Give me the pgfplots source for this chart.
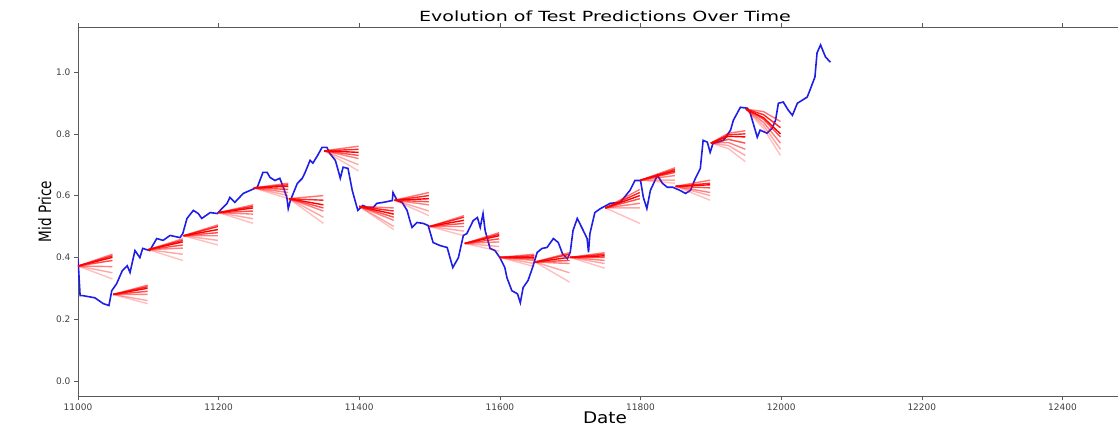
\documentclass[border=0pt]{standalone}
\usepackage{fontspec}
\setmainfont{DejaVu Sans}
\newfontfamily\titlefont[FakeStretch=1.36]{DejaVu Sans}
\newfontfamily\xlabfont[FakeStretch=1.15]{DejaVu Sans}
\newfontfamily\ylabfont[FakeStretch=0.8]{DejaVu Sans}
\usepackage{pgfplots}
\pgfplotsset{compat=1.18}
\definecolor{lineblue}{RGB}{30,30,230}
\definecolor{spine}{RGB}{90,90,90}
\begin{document}
\begin{tikzpicture}
\begin{axis}[
  scale only axis, width=1040pt, height=369pt,
  xmin=11000, xmax=12479, ymin=-0.049, ymax=1.146,
  axis x line*=box, axis y line*=left,
  axis line style={spine, line width=0.9pt},
  xtick={11000,11200,11400,11600,11800,12000,12200,12400},
  ytick={0,0.2,0.4,0.6,0.8,1.0},
  scaled x ticks=false,
  tick style={spine, line width=0.6pt}, tick align=outside,
  major tick length=4pt,
  /pgf/number format/assume math mode=true,
  xticklabel style={/pgf/number format/fixed, /pgf/number format/set thousands separator={}, font=\fontsize{9}{10}\selectfont, color=black!75},
  yticklabel style={/pgf/number format/fixed, /pgf/number format/fixed zerofill, /pgf/number format/precision=1, font=\fontsize{9}{10}\selectfont, color=black!75},
  title={\titlefont\fontsize{14}{16}\selectfont Evolution of Test Predictions Over Time},
  title style={yshift=-4pt, xshift=7pt},
  xlabel={\xlabfont\fontsize{16}{18}\selectfont Date},
  xlabel style={xshift=7pt, yshift=5pt},
  ylabel={\ylabfont\fontsize{17}{19}\selectfont Mid Price},
  ylabel style={yshift=-2pt},
  clip=true,
]
\addplot[lineblue, line width=1.6pt] coordinates {
(11000,0.396) (11003,0.276) (11007,0.276) (11024,0.269) (11036,0.250) (11044,0.244)
(11048,0.292) (11055,0.315) (11063,0.357) (11070,0.373) (11074,0.351) (11081,0.422)
(11088,0.399) (11092,0.429) (11102,0.422) (11112,0.461) (11121,0.455) (11131,0.471)
(11145,0.464) (11149,0.477) (11155,0.526) (11164,0.552) (11171,0.542) (11176,0.526)
(11188,0.545) (11198,0.542) (11212,0.575) (11216,0.594) (11223,0.578) (11235,0.607)
(11245,0.617) (11255,0.627) (11263,0.675) (11269,0.675) (11273,0.659) (11280,0.649)
(11287,0.656) (11292,0.627) (11297,0.594) (11299,0.558) (11302,0.584) (11312,0.640)
(11319,0.656) (11323,0.675) (11330,0.714) (11334,0.705) (11341,0.731) (11347,0.756)
(11354,0.756) (11358,0.737) (11366,0.714) (11370,0.682) (11373,0.656) (11377,0.692)
(11384,0.688) (11390,0.617) (11394,0.584) (11398,0.552) (11405,0.568) (11411,0.562)
(11420,0.562) (11425,0.575) (11434,0.578) (11447,0.584) (11448,0.610) (11454,0.584)
(11461,0.578) (11468,0.552) (11472,0.519) (11475,0.497) (11482,0.513) (11491,0.510)
(11498,0.503) (11505,0.448) (11515,0.438) (11525,0.432) (11533,0.367) (11541,0.399)
(11548,0.471) (11553,0.477) (11562,0.519) (11568,0.529) (11572,0.497) (11576,0.542)
(11579,0.487) (11586,0.429) (11593,0.422) (11600,0.399) (11607,0.367) (11610,0.334)
(11617,0.292) (11625,0.282) (11629,0.253) (11633,0.302) (11640,0.325) (11646,0.364)
(11653,0.416) (11660,0.429) (11667,0.432) (11676,0.461) (11683,0.448) (11689,0.412)
(11696,0.396) (11700,0.416) (11704,0.487) (11710,0.526) (11717,0.494) (11724,0.461)
(11726,0.416) (11728,0.477) (11735,0.545) (11743,0.558) (11757,0.575) (11771,0.578)
(11785,0.617) (11792,0.649) (11800,0.649) (11804,0.594) (11809,0.558) (11814,0.617)
(11824,0.666) (11831,0.640) (11838,0.627) (11846,0.627) (11856,0.617) (11864,0.607)
(11871,0.617) (11878,0.656) (11885,0.688) (11889,0.779) (11895,0.773) (11899,0.740)
(11903,0.769) (11918,0.779) (11928,0.812) (11932,0.844) (11942,0.886) (11952,0.883)
(11956,0.867) (11966,0.789) (11970,0.812) (11980,0.802) (11987,0.818) (11992,0.844)
(11996,0.899) (12003,0.903) (12010,0.877) (12016,0.860) (12023,0.899) (12030,0.909)
(12037,0.919) (12041,0.942) (12048,0.984) (12051,1.062) (12056,1.088) (12063,1.049)
(12070,1.032)
};
% prediction fans: one plot per epoch (alpha level), segments separated by nan
\pgfplotsset{fan/.style={red, line width=1.4pt, unbounded coords=jump}}
\addplot[fan, opacity=0.55] coordinates {
(11000,0.372) (11049,0.41) (11049,nan) (11050,0.28) (11099,0.31) (11099,nan)
(11100,0.425) (11149,0.46) (11149,nan) (11150,0.47) (11199,0.505) (11199,nan)
(11200,0.545) (11249,0.57) (11249,nan) (11250,0.625) (11299,0.64) (11299,nan)
(11300,0.59) (11349,0.60) (11349,nan) (11350,0.745) (11399,0.76) (11399,nan)
(11400,0.565) (11449,0.56) (11449,nan) (11450,0.585) (11499,0.61) (11499,nan)
(11500,0.50) (11549,0.535) (11549,nan) (11550,0.445) (11599,0.48) (11599,nan)
(11600,0.40) (11649,0.41) (11649,nan) (11650,0.385) (11699,0.415) (11699,nan)
(11700,0.40) (11749,0.415) (11749,nan) (11750,0.56) (11799,0.62) (11799,nan)
(11800,0.65) (11849,0.69) (11849,nan) (11850,0.63) (11899,0.65) (11899,nan)
(11900,0.77) (11925,0.802) (11949,0.81) (11949,nan) (11950,0.88) (11975,0.872) (11999,0.84)
};
\addplot[fan, opacity=0.85] coordinates {
(11000,0.372) (11049,0.405) (11049,nan) (11050,0.28) (11099,0.305) (11099,nan)
(11100,0.425) (11149,0.455) (11149,nan) (11150,0.47) (11199,0.50) (11199,nan)
(11200,0.545) (11249,0.565) (11249,nan) (11250,0.625) (11299,0.635) (11299,nan)
(11300,0.59) (11349,0.585) (11349,nan) (11350,0.745) (11399,0.75) (11399,nan)
(11400,0.565) (11449,0.55) (11449,nan) (11450,0.585) (11499,0.60) (11499,nan)
(11500,0.50) (11549,0.53) (11549,nan) (11550,0.445) (11599,0.475) (11599,nan)
(11600,0.40) (11649,0.405) (11649,nan) (11650,0.385) (11699,0.41) (11699,nan)
(11700,0.40) (11749,0.41) (11749,nan) (11750,0.56) (11799,0.61) (11799,nan)
(11800,0.65) (11849,0.685) (11849,nan) (11850,0.63) (11899,0.64) (11899,nan)
(11900,0.77) (11925,0.797) (11949,0.80) (11949,nan) (11950,0.88) (11975,0.862) (11999,0.82)
};
\addplot[fan, opacity=1] coordinates {
(11000,0.372) (11049,0.40) (11049,nan) (11050,0.28) (11099,0.30) (11099,nan)
(11100,0.425) (11149,0.45) (11149,nan) (11150,0.47) (11199,0.49) (11199,nan)
(11200,0.545) (11249,0.56) (11249,nan) (11250,0.625) (11299,0.63) (11299,nan)
(11300,0.59) (11349,0.57) (11349,nan) (11350,0.745) (11399,0.74) (11399,nan)
(11400,0.565) (11449,0.54) (11449,nan) (11450,0.585) (11499,0.59) (11499,nan)
(11500,0.50) (11549,0.52) (11549,nan) (11550,0.445) (11599,0.47) (11599,nan)
(11600,0.40) (11649,0.40) (11649,nan) (11650,0.385) (11699,0.40) (11699,nan)
(11700,0.40) (11749,0.405) (11749,nan) (11750,0.56) (11799,0.60) (11799,nan)
(11800,0.65) (11849,0.68) (11849,nan) (11850,0.63) (11899,0.635) (11899,nan)
(11900,0.77) (11925,0.792) (11949,0.79) (11949,nan) (11950,0.88) (11975,0.852) (11999,0.80)
};
\addplot[fan, opacity=0.7] coordinates {
(11000,0.372) (11049,0.39) (11049,nan) (11050,0.28) (11099,0.29) (11099,nan)
(11100,0.425) (11149,0.44) (11149,nan) (11150,0.47) (11199,0.48) (11199,nan)
(11200,0.545) (11249,0.55) (11249,nan) (11250,0.625) (11299,0.62) (11299,nan)
(11300,0.59) (11349,0.56) (11349,nan) (11350,0.745) (11399,0.73) (11399,nan)
(11400,0.565) (11449,0.53) (11449,nan) (11450,0.585) (11499,0.58) (11499,nan)
(11500,0.50) (11549,0.51) (11549,nan) (11550,0.445) (11599,0.46) (11599,nan)
(11600,0.40) (11649,0.395) (11649,nan) (11650,0.385) (11699,0.39) (11699,nan)
(11700,0.40) (11749,0.40) (11749,nan) (11750,0.56) (11799,0.59) (11799,nan)
(11800,0.65) (11849,0.675) (11849,nan) (11850,0.63) (11899,0.625) (11899,nan)
(11900,0.77) (11925,0.782) (11949,0.77) (11949,nan) (11950,0.88) (11975,0.847) (11999,0.79)
};
\addplot[fan, opacity=0.5] coordinates {
(11000,0.372) (11049,0.37) (11049,nan) (11050,0.28) (11099,0.28) (11099,nan)
(11100,0.425) (11149,0.43) (11149,nan) (11150,0.47) (11199,0.47) (11199,nan)
(11200,0.545) (11249,0.54) (11249,nan) (11250,0.625) (11299,0.61) (11299,nan)
(11300,0.59) (11349,0.55) (11349,nan) (11350,0.745) (11399,0.72) (11399,nan)
(11400,0.565) (11449,0.52) (11449,nan) (11450,0.585) (11499,0.57) (11499,nan)
(11500,0.50) (11549,0.50) (11549,nan) (11550,0.445) (11599,0.45) (11599,nan)
(11600,0.40) (11649,0.39) (11649,nan) (11650,0.385) (11699,0.38) (11699,nan)
(11700,0.40) (11749,0.39) (11749,nan) (11750,0.56) (11799,0.575) (11799,nan)
(11800,0.65) (11849,0.665) (11849,nan) (11850,0.63) (11899,0.61) (11899,nan)
(11900,0.77) (11925,0.772) (11949,0.75) (11949,nan) (11950,0.88) (11975,0.837) (11999,0.77)
};
\addplot[fan, opacity=0.35] coordinates {
(11000,0.372) (11049,0.35) (11049,nan) (11050,0.28) (11099,0.26) (11099,nan)
(11100,0.425) (11149,0.41) (11149,nan) (11150,0.47) (11199,0.455) (11199,nan)
(11200,0.545) (11249,0.525) (11249,nan) (11250,0.625) (11299,0.60) (11299,nan)
(11300,0.59) (11349,0.53) (11349,nan) (11350,0.745) (11399,0.70) (11399,nan)
(11400,0.565) (11449,0.50) (11449,nan) (11450,0.585) (11499,0.55) (11499,nan)
(11500,0.50) (11549,0.485) (11549,nan) (11550,0.445) (11599,0.435) (11599,nan)
(11600,0.40) (11649,0.38) (11649,nan) (11650,0.385) (11699,0.35) (11699,nan)
(11700,0.40) (11749,0.38) (11749,nan) (11750,0.56) (11799,0.56) (11799,nan)
(11800,0.65) (11849,0.65) (11849,nan) (11850,0.63) (11899,0.60) (11899,nan)
(11900,0.77) (11925,0.762) (11949,0.73) (11949,nan) (11950,0.88) (11975,0.827) (11999,0.75)
};
\addplot[fan, opacity=0.25] coordinates {
(11000,0.372) (11049,0.33) (11049,nan) (11050,0.28) (11099,0.25) (11099,nan)
(11100,0.425) (11149,0.39) (11149,nan) (11150,0.47) (11199,0.44) (11199,nan)
(11200,0.545) (11249,0.51) (11249,nan) (11250,0.625) (11299,0.59) (11299,nan)
(11300,0.59) (11349,0.51) (11349,nan) (11350,0.745) (11399,0.68) (11399,nan)
(11400,0.565) (11449,0.49) (11449,nan) (11450,0.585) (11499,0.535) (11499,nan)
(11500,0.50) (11549,0.47) (11549,nan) (11550,0.445) (11599,0.42) (11599,nan)
(11600,0.40) (11649,0.37) (11649,nan) (11650,0.385) (11699,0.32) (11699,nan)
(11700,0.40) (11749,0.365) (11749,nan) (11750,0.56) (11799,0.51) (11799,nan)
(11800,0.65) (11849,0.64) (11849,nan) (11850,0.63) (11899,0.585) (11899,nan)
(11900,0.77) (11925,0.752) (11949,0.71) (11949,nan) (11950,0.88) (11975,0.817) (11999,0.73)
};
\end{axis}
\pgfresetboundingbox
\path[use as bounding box] (-78pt,-30pt) rectangle (1040pt,396pt);
\end{tikzpicture}
\end{document}
